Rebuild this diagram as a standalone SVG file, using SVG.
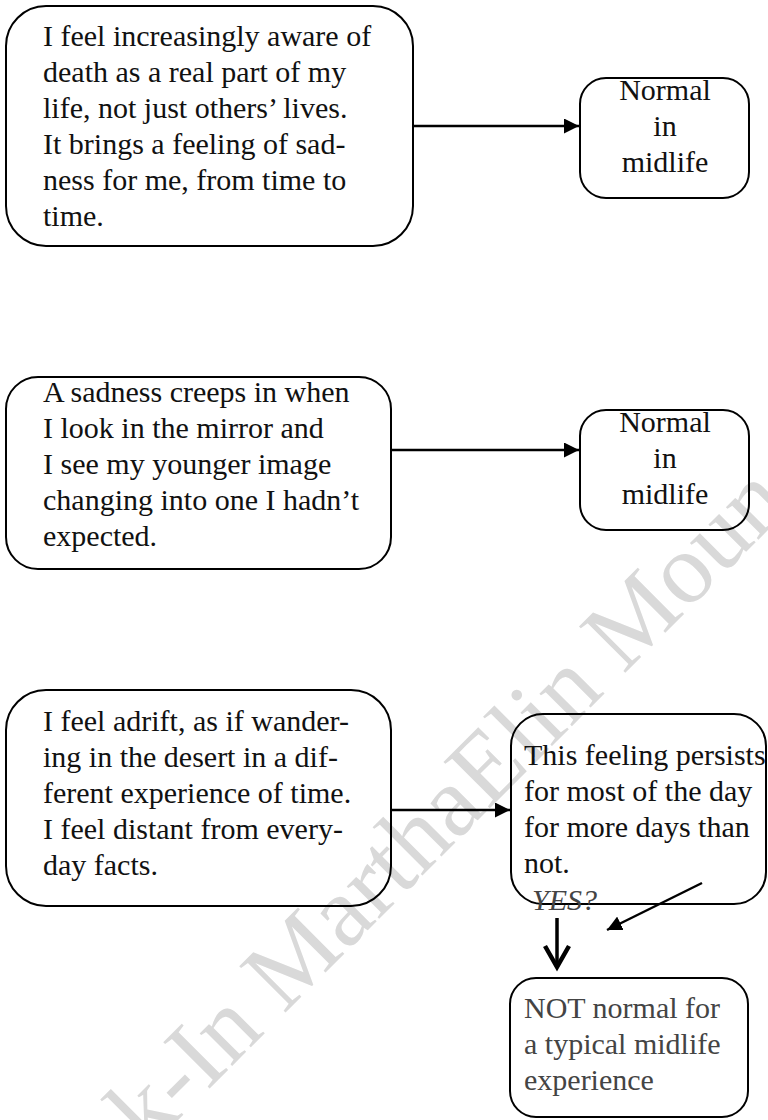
<svg xmlns="http://www.w3.org/2000/svg" width="768" height="1120" viewBox="0 0 768 1120">
<style>
.box{fill:none;stroke:#000;stroke-width:2}
.t{font-family:"Liberation Serif","Times New Roman",serif;font-size:30px;fill:#111}
.c{text-anchor:middle}
.g{fill:#444}
.ln{stroke:#000;stroke-width:2.5;fill:none}
.thick{stroke-width:3.5}
.wm{font-family:"Liberation Serif","Times New Roman",serif;font-size:100px;fill:#d9d9d9}
</style>
<defs>
<marker id="ah" viewBox="0 0 10 10" refX="10" refY="5" markerWidth="6" markerHeight="6" markerUnits="strokeWidth" orient="auto">
<path d="M0,0 L10,5 L0,10 z" fill="#000"/>
</marker>
</defs>
<rect width="768" height="1120" fill="#fff"/>
<g id="watermark">
<text class="wm" transform="translate(148,1150) rotate(-45)">k-In MarthaElin Moun</text>
</g>
<g id="n1">
<rect class="box" x="6" y="6" width="407" height="240" rx="40"/>
<text class="t" x="43" y="46">I feel increasingly aware of</text>
<text class="t" x="43" y="82">death as a real part of my</text>
<text class="t" x="43" y="118">life, not just others’ lives.</text>
<text class="t" x="43" y="154">It brings a feeling of sad-</text>
<text class="t" x="43" y="190">ness for me, from time to</text>
<text class="t" x="43" y="226">time.</text>
</g>
<g id="n2">
<rect class="box" x="580" y="78" width="169" height="120" rx="26"/>
<text class="t c" x="665" y="100">Normal</text>
<text class="t c" x="665" y="136">in</text>
<text class="t c" x="665" y="172">midlife</text>
</g>
<g id="n3">
<rect class="box" x="6" y="377" width="385" height="192" rx="32"/>
<text class="t" x="43" y="402">A sadness creeps in when</text>
<text class="t" x="43" y="438">I look in the mirror and</text>
<text class="t" x="43" y="474">I see my younger image</text>
<text class="t" x="43" y="510">changing into one I hadn’t</text>
<text class="t" x="43" y="546">expected.</text>
</g>
<g id="n4">
<rect class="box" x="580" y="410" width="169" height="120" rx="26"/>
<text class="t c" x="665" y="432">Normal</text>
<text class="t c" x="665" y="468">in</text>
<text class="t c" x="665" y="504">midlife</text>
</g>
<g id="n5">
<rect class="box" x="6" y="690" width="385" height="216" rx="40"/>
<text class="t" x="43" y="731">I feel adrift, as if wander-</text>
<text class="t" x="43" y="767">ing in the desert in a dif-</text>
<text class="t" x="43" y="803">ferent experience of time.</text>
<text class="t" x="43" y="839">I feel distant from every-</text>
<text class="t" x="43" y="875">day facts.</text>
</g>
<g id="n6">
<rect class="box" x="511" y="714" width="255" height="190" rx="32"/>
<text class="t" x="524" y="765">This feeling persists</text>
<text class="t" x="524" y="801">for most of the day</text>
<text class="t" x="524" y="837">for more days than</text>
<text class="t" x="524" y="873">not.</text>
<text class="t g" x="532" y="910" font-style="italic">YES?</text>
</g>
<g id="n7">
<rect class="box" x="510" y="978" width="238" height="139" rx="26"/>
<text class="t g" x="524" y="1018">NOT normal for</text>
<text class="t g" x="524" y="1054">a typical midlife</text>
<text class="t g" x="524" y="1090">experience</text>
</g>
<g id="connectors">
<line class="ln" x1="413" y1="126" x2="579" y2="126" marker-end="url(#ah)"/>
<line class="ln" x1="391" y1="450" x2="579" y2="450" marker-end="url(#ah)"/>
<line class="ln" x1="391" y1="810" x2="510" y2="810" marker-end="url(#ah)"/>
<line class="ln" x1="702" y1="883" x2="607" y2="930" marker-end="url(#ah)"/>
<line class="ln thick" x1="557" y1="918" x2="557" y2="965"/>
<polyline class="ln thick" points="545,946 557,967 569,946" style="stroke-width:4.5"/>
</g>
</svg>
